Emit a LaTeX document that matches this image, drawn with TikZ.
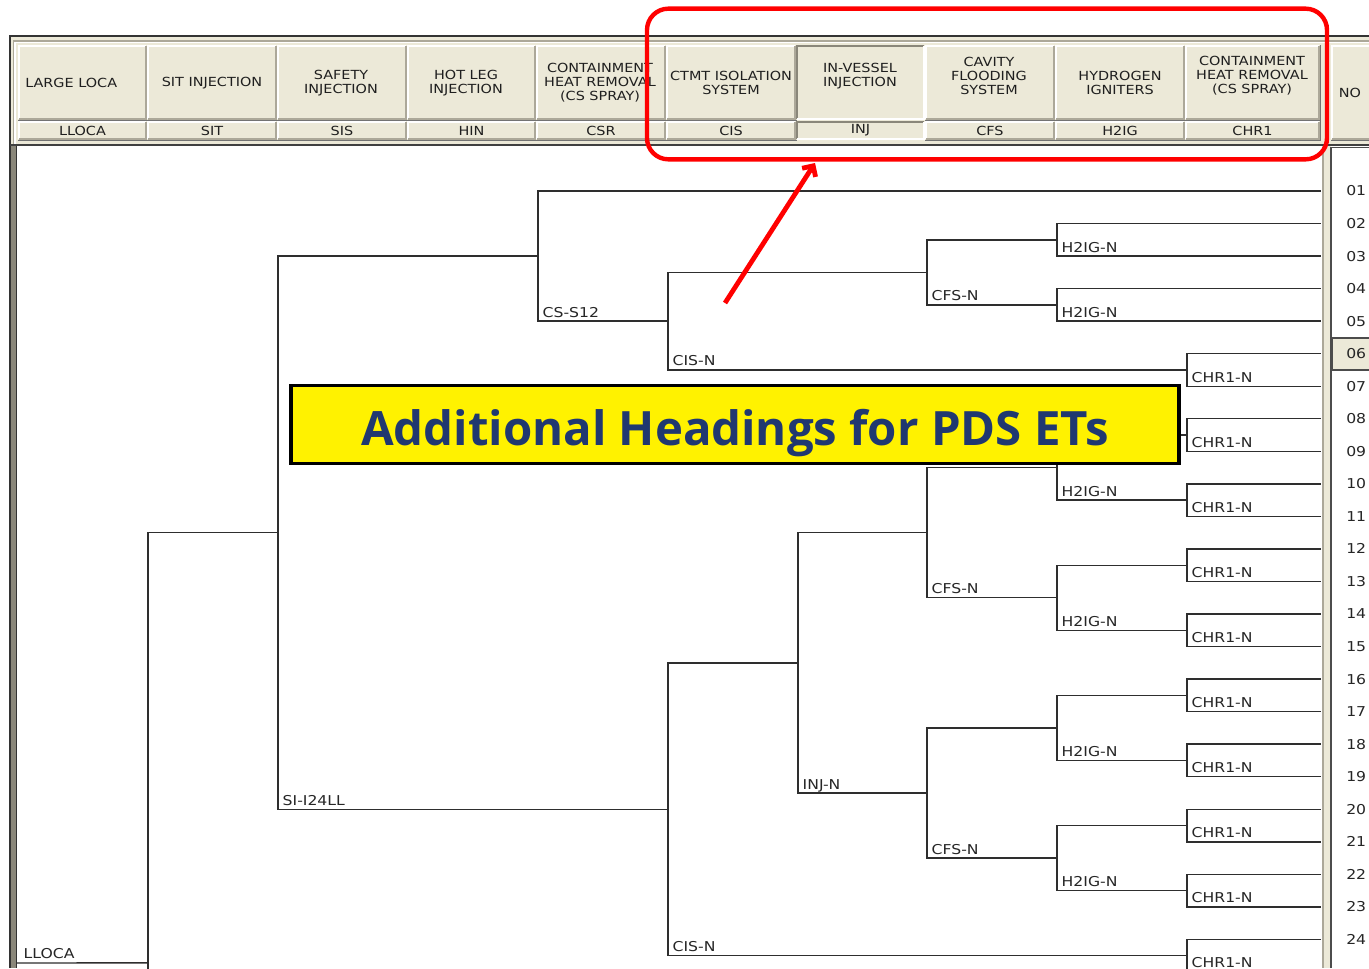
\documentclass[tikz,border=0pt]{standalone}
\usepackage{fontspec}
\newfontfamily\uif{DejaVu Sans}[FakeStretch=1.15]
\newfontfamily\bannerfont{Open Sans}
\usetikzlibrary{arrows.meta}
\definecolor{winbg}{HTML}{ECE9D8}
\definecolor{winsh}{HTML}{ACA899}
\definecolor{windk}{HTML}{8A877A}
\definecolor{bannerblue}{RGB}{32,56,112}
\definecolor{treeline}{HTML}{2E2E2E}
\definecolor{hlred}{RGB}{255,0,0}
\newcommand\jn[3]{\coordinate (#1) at (#2,{191+(#3-1)*32.54});}
\newcommand\upbr[2]{\draw[tl] (#1) |- (#2);}
\newcommand\dnbr[3]{\draw[tl] (#1) |- (#2) node[lbl,pos=0.5,anchor=base west,xshift=3pt,yshift=3pt]{#3};}
\newcommand\hcell[4]{%
  \fill[winbg] (#1,#3) rectangle (#2,#4);
  \draw[white,line width=1.2pt] (#1+1,#4-1) -- (#1+1,#3+1) -- (#2-1,#3+1);
  \draw[winsh,line width=1.2pt] (#1+1,#4-1) -- (#2-1,#4-1) -- (#2-1,#3+1);
  \draw[black!55,line width=0.6pt] (#2,#3) -- (#2,#4) -- (#1,#4);}
\newcommand\scell[4]{%
  \fill[winbg] (#1,#3) rectangle (#2,#4);
  \draw[windk,line width=1.2pt] (#1+1,#4-1) -- (#1+1,#3+1) -- (#2-1,#3+1);
  \draw[white,line width=1.2pt] (#1+1,#4-1) -- (#2-1,#4-1) -- (#2-1,#3+1);}
\begin{document}
\begin{tikzpicture}[x=0.75pt,y=-0.75pt,
  tl/.style={draw=treeline,line width=1.05pt},
  lbl/.style={font=\uif\fontsize{10.2}{12}\selectfont,text=black!85,inner sep=0pt},
  hdt/.style={font=\uif\fontsize{9.4}{10.5}\selectfont,align=center,inner sep=0pt,text=black!88},
  num/.style={font=\uif\fontsize{10.2}{12}\selectfont,text=black!85,inner sep=0pt,anchor=west},
  banner/.style={draw=black,line width=2.3pt,fill=yellow,minimum width=666pt,minimum height=59pt,inner sep=0pt},
  bantext/.style={font=\bannerfont\bfseries\fontsize{35.5}{40}\selectfont,text=bannerblue,inner sep=0pt,anchor=base},
  hlbox/.style={draw=hlred,line width=3.3pt,rounded corners=16pt,minimum width=510pt,minimum height=113pt,inner sep=0pt},
  redarr/.style={draw=hlred,line width=3.6pt,-{Straight Barb[length=6pt,width=12pt]}}]
\useasboundingbox (0,0) rectangle (1369,968);
\clip (0,0) rectangle (1369,968);
\fill[white] (0,0) rectangle (1369,968);
% window header
\fill[winbg] (10,35) rectangle (1369,146);
\draw[black!80,line width=1.5pt] (10,968) -- (10,35.5) -- (1369,35.5);
\draw[winsh,line width=1pt] (13.5,146) -- (13.5,41) -- (1369,41);
\draw[white,line width=0.8pt] (15,146) -- (15,42.5) -- (1369,42.5);
\foreach \a/\b in {18/147,147/277,277/407,407/536,536/666,666/796,925/1055,1055/1185,1185/1320}{
  \hcell{\a}{\b}{45}{120}
  \hcell{\a}{\b}{121}{140}}
\scell{796}{925}{45}{120}
\scell{796}{925}{121}{140}
\hcell{1331}{1390}{45}{140}
\node[hdt,anchor=west] (h1) at (25,83) {LARGE LOCA};
\node[hdt] (h2) at (212,83) {SIT INJECTION};
\node[hdt] (h3) at (341,83) {SAFETY\\INJECTION};
\node[hdt] (h4) at (466,83) {HOT LEG\\INJECTION};
\node[hdt] (h5) at (600,83) {CONTAINMENT\\HEAT REMOVAL\\(CS SPRAY)};
\node[hdt] (h6) at (731,83) {CTMT ISOLATION\\SYSTEM};
\node[hdt] (h7) at (860,76) {IN-VESSEL\\INJECTION};
\node[hdt] (h8) at (989,75.5) {CAVITY\\FLOODING\\SYSTEM};
\node[hdt] (h9) at (1120,83) {HYDROGEN\\IGNITERS};
\node[hdt] (h10) at (1252,75.5) {CONTAINMENT\\HEAT REMOVAL\\(CS SPRAY)};
\node[hdt] (hno) at (1350,93) {NO};
\foreach \c/\t/\n in {82.5/LLOCA/c1,212/SIT/c2,342/SIS/c3,471.5/HIN/c4,601/CSR/c5,731/CIS/c6,860.5/INJ/c7,990/CFS/c8,1120/H2IG/c9,1252.5/CHR1/c10}{
  \node[hdt] (\n) at (\c,130.5) {\t};}
% panels
\draw[black!75,line width=1.3pt] (10,145) -- (1369,145);
\fill[white] (17,146) rectangle (1322,968);
\fill[windk] (10.5,146) rectangle (17,968);
\draw[black!80,line width=0.8pt] (16.5,146) -- (16.5,968);
\draw[black!80,line width=0.8pt] (10.5,146) -- (10.5,968);
\fill[winbg] (1322,146) rectangle (1331,968);
\draw[winsh,line width=1pt] (1323,147) -- (1323,968);
\fill[white] (1331,147) rectangle (1369,968);
\draw[black!70,line width=1pt] (1331,968) -- (1331,147.5) -- (1369,147.5);
% highlighted row
\fill[winbg] (1332,338) rectangle (1369,370);
\draw[black!70,line width=0.9pt] (1369,338) -- (1332,338) -- (1332,370) -- (1369,370);
% leaf end points and numbers
\foreach \i in {1,...,25}{
  \coordinate (e\i) at (1321,{191+(\i-1)*32.54});}
\foreach \i in {1,...,24}{
  \node[num] (n\i) at (1346,{191+(\i-1)*32.54}) {\ifnum\i<10 0\fi\i};}
% junctions
\jn{c67}{1187}{6.5}
\jn{c89}{1187}{8.5}
\jn{c1011}{1187}{10.5}
\jn{c1213}{1187}{12.5}
\jn{c1415}{1187}{14.5}
\jn{c1617}{1187}{16.5}
\jn{c1819}{1187}{18.5}
\jn{c2021}{1187}{20.5}
\jn{c2223}{1187}{22.5}
\jn{c2425}{1187}{24.5}
\jn{h23}{1057}{2.5}
\jn{h45}{1057}{4.5}
\jn{h811}{1057}{9.5}
\jn{h1215}{1057}{13.5}
\jn{h1619}{1057}{17.5}
\jn{h2023}{1057}{21.5}
\jn{f25}{927}{3.5}
\jn{f815}{927}{11.5}
\jn{f1623}{927}{19.5}
\jn{i823}{798}{15.5}
\jn{s27}{668}{5}
\jn{s825}{668}{20}
\jn{cs17}{538}{3}
\jn{si}{278}{11.5}
\jn{ll}{148}{24.72}
\coordinate (init) at (17,963);
\coordinate (lldn) at (278,1393);
% branches
\draw[tl] (init) -- (ll) node[lbl,pos=0,anchor=base west,xshift=4.5pt,yshift=3.5pt]{LLOCA};
\upbr{ll}{si}
\upbr{ll}{lldn}
\upbr{si}{cs17}   \dnbr{si}{s825}{SI-I24LL}
\upbr{cs17}{e1}   \dnbr{cs17}{s27}{CS-S12}
\upbr{s27}{f25}   \dnbr{s27}{c67}{CIS-N}
\upbr{f25}{h23}   \dnbr{f25}{h45}{CFS-N}
\upbr{h23}{e2}    \dnbr{h23}{e3}{H2IG-N}
\upbr{h45}{e4}    \dnbr{h45}{e5}{H2IG-N}
\upbr{s825}{i823} \dnbr{s825}{c2425}{CIS-N}
\upbr{i823}{f815} \dnbr{i823}{f1623}{INJ-N}
\upbr{f815}{h811} \dnbr{f815}{h1215}{CFS-N}
\upbr{h811}{c89}  \dnbr{h811}{c1011}{H2IG-N}
\upbr{h1215}{c1213} \dnbr{h1215}{c1415}{H2IG-N}
\upbr{f1623}{h1619} \dnbr{f1623}{h2023}{CFS-N}
\upbr{h1619}{c1617} \dnbr{h1619}{c1819}{H2IG-N}
\upbr{h2023}{c2021} \dnbr{h2023}{c2223}{H2IG-N}
\foreach \a/\b in {6/7,8/9,10/11,12/13,14/15,16/17,18/19,20/21,22/23,24/25}{
  \upbr{c\a\b}{e\a}
  \dnbr{c\a\b}{e\b}{CHR1-N}}
% banner
\node[banner] (ban) at (735,424.5) {};
\node[bantext] (bantxt) at (735,445) {Additional Headings for PDS ETs};
% highlight box and arrow
\node[hlbox] (hl) at (987,84) {};
\coordinate (tail) at (725,303);
\coordinate (tip) at (815,163);
\draw[redarr] (tail) -- (tip);
\end{tikzpicture}
\end{document}
